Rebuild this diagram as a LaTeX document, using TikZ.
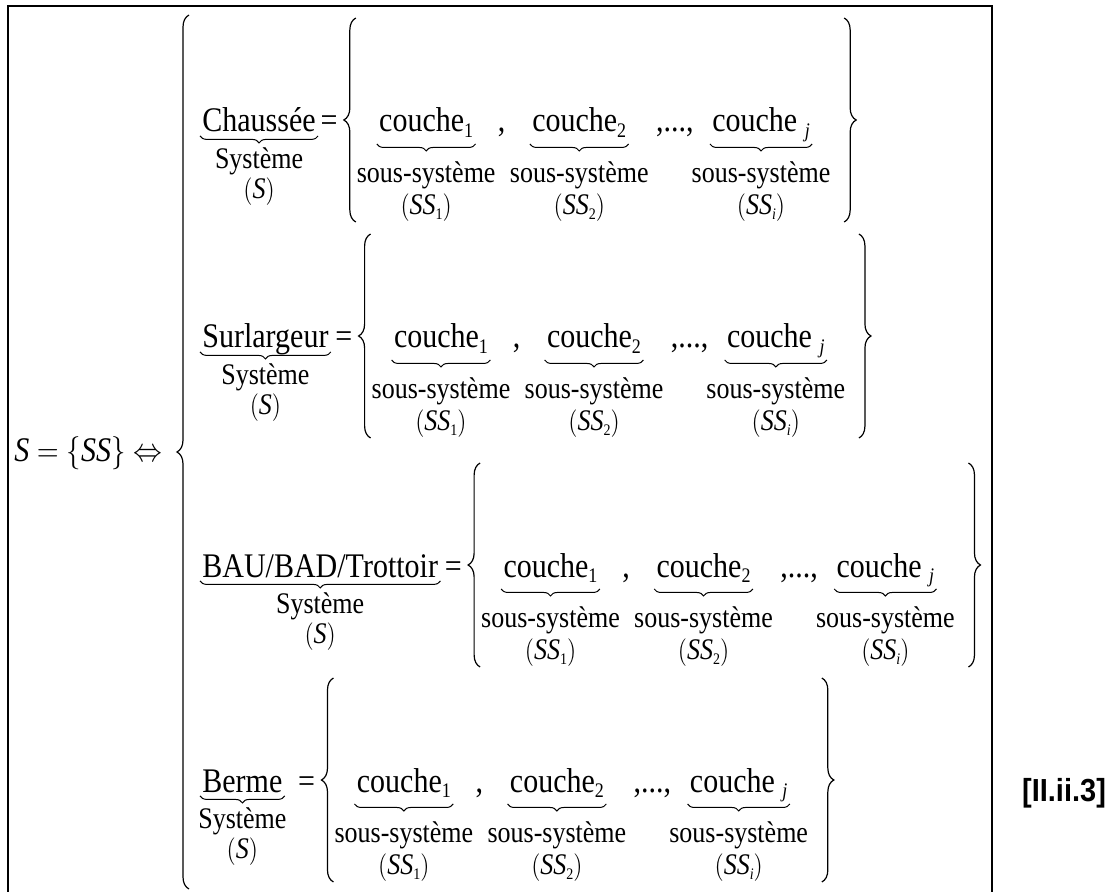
\documentclass[tikz,border=0pt]{standalone}
\usepackage{fontspec}
\setmainfont{Liberation Serif}
\newfontfamily\labelfont{Liberation Sans}
\usetikzlibrary{positioning,calc,decorations.pathreplacing}

\tikzset{
  sysword/.style={font=\fontsize{15}{18}\selectfont, inner sep=1pt, text depth=0.5pt, yscale=1.15},
  layer/.style={sysword, text depth=4pt},
  small/.style={font=\fontsize{13}{15}\selectfont, inner sep=0.5pt, yscale=1.15},
  ubrace/.style={decorate, decoration={brace, amplitude=3.5pt}, line width=0.5pt},
  bigbrace/.style={decorate, decoration={brace, amplitude=6pt}, line width=0.6pt},
}

\newcommand{\idx}[1]{\raisebox{-0.35ex}{\fontsize{9}{9}\selectfont #1}}
\newcommand{\ssidx}[1]{\raisebox{-0.35ex}{\fontsize{7}{7}\selectfont #1}}

% one couche with its sous-systeme label
\newcommand{\layeritem}[4]{%
  \node[layer, #2] (#1) {couche#3};
  \draw[ubrace] (#1.south east) -- (#1.south west);
  \node[small, below=8pt of #1] (#1-sub) {sous-système};
  \node[small, below=1pt of #1-sub] (#1-ss) {$\bigl($\textit{SS}#4$\bigr)$};
}

% one system row
\newcommand{\sysrow}[4]{%
  \node[sysword, anchor=base west] (#1) at (200,#2) {#3};
  \draw[ubrace] (#1.south east) -- (#1.south west);
  \node[small, below=5pt of #1] (#1-sys) {Système};
  \node[small, below=0pt of #1-sys] (#1-s) {$\bigl($\textit{S}$\bigr)$};
  \node[sysword, base right=#4 of #1] (#1-eq) {=};
  \draw[bigbrace] ($(#1-eq.base east)+(16,90)$) -- ++(0,-204);
  \layeritem{#1-c1}{base right=18.5pt of #1-eq}{\idx{1}}{\ssidx{1}}
  \node[sysword, base right=10pt of #1-c1] (#1-k1) {,};
  \layeritem{#1-c2}{base right=11pt of #1-k1}{\idx{2}}{\ssidx{2}}
  \node[sysword, base right=12.5pt of #1-c2] (#1-k2) {,...,};
  \layeritem{#1-cj}{base right=7pt of #1-k2}{\hspace{0.25em}\idx{\textit{j}}}{\ssidx{\textit{i}}}
  \draw[bigbrace] ($(#1-cj.base east)+(32,-114)$) -- ++(0,204);
}

\begin{document}
\begin{tikzpicture}[x=0.5pt, y=-0.5pt]
\useasboundingbox (0,0) rectangle (1118,892);
% frame, open at the bottom
\draw[line width=0.8pt] (8,900) -- (8,6) -- (992,6) -- (992,900);

\node[sysword, anchor=base west] (def) at (12,462) {\textit{S} $=\Bigl\{$\textit{SS}$\Bigr\}$ $\Leftrightarrow$};
\draw[bigbrace] (189,889) -- (189,15);

\sysrow{chau}{132}{Chaussée}{0pt}
\sysrow{surl}{348}{Surlargeur}{1pt}
\sysrow{bau}{577}{BAU/BAD/Trottoir}{1pt}
\sysrow{berm}{792}{Berme}{5.5pt}

\node[font=\labelfont\bfseries\fontsize{14.5}{16}\selectfont, yscale=1.1] (eqnum) at (1064,793) {[II.ii.3]};
\end{tikzpicture}
\end{document}
